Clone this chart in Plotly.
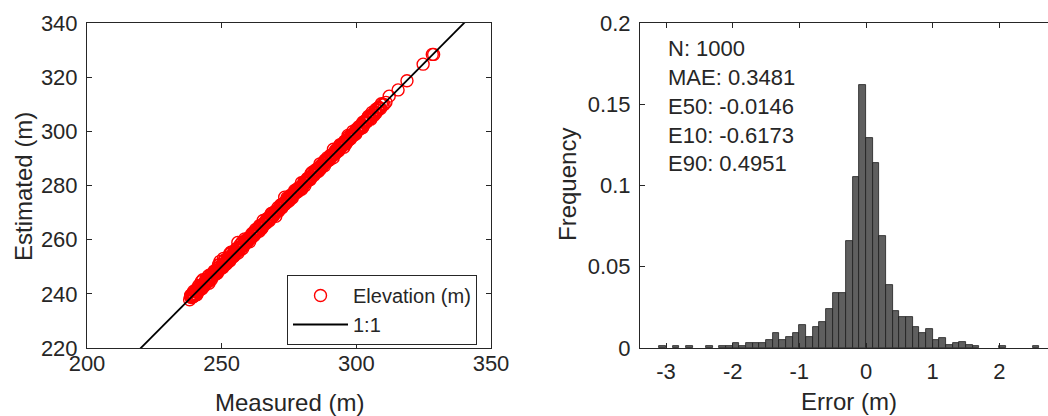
import plotly.graph_objects as go

# ---- scatter: measured vs estimated elevation (m) ----
MEASURED = [
    238.1, 238.4, 238.7, 238.9, 239.2, 239.5, 239.6, 239.9, 240.2, 240.4,
    240.7, 240.9, 241.1, 241.4, 241.6, 241.9, 242.1, 242.4, 242.6, 242.8,
    243.1, 243.3, 243.6, 243.8, 244.1, 244.3, 244.6, 244.9, 245.1, 245.4,
    245.6, 245.9, 246.2, 246.4, 246.7, 247.0, 247.2, 247.5, 247.8, 248.1,
    248.3, 248.6, 248.9, 249.1, 249.4, 249.7, 249.9, 250.2, 250.5, 250.8,
    251.0, 251.3, 251.6, 251.8, 252.1, 252.4, 252.7, 252.9, 253.2, 253.5,
    253.8, 254.0, 254.3, 254.6, 254.9, 255.1, 255.4, 255.7, 256.0, 256.2,
    256.5, 256.8, 257.1, 257.3, 257.6, 257.9, 258.2, 258.4, 258.7, 259.0,
    259.3, 259.6, 259.8, 260.1, 260.4, 260.7, 260.9, 261.2, 261.5, 261.8,
    262.1, 262.3, 262.6, 262.9, 263.2, 263.4, 263.7, 264.0, 264.3, 264.6,
    264.8, 265.1, 265.4, 265.7, 265.9, 266.2, 266.5, 266.8, 267.1, 267.3,
    267.6, 267.9, 268.2, 268.4, 268.7, 269.0, 269.3, 269.6, 269.8, 270.1,
    270.4, 270.7, 270.9, 271.2, 271.5, 271.8, 272.1, 272.3, 272.6, 272.9,
    273.2, 273.4, 273.7, 274.0, 274.3, 274.6, 274.8, 275.1, 275.4, 275.7,
    275.9, 276.2, 276.5, 276.8, 277.1, 277.3, 277.6, 277.9, 278.2, 278.4,
    278.7, 279.0, 279.3, 279.6, 279.8, 280.1, 280.4, 280.7, 280.9, 281.2,
    281.5, 281.8, 282.1, 282.3, 282.6, 282.9, 283.2, 283.4, 283.7, 284.0,
    284.3, 284.6, 284.8, 285.1, 285.4, 285.7, 285.9, 286.2, 286.5, 286.8,
    287.1, 287.3, 287.6, 287.9, 288.2, 288.4, 288.7, 289.0, 289.3, 289.6,
    289.8, 290.1, 290.4, 290.7, 290.9, 291.2, 291.5, 291.8, 292.1, 292.3,
    292.6, 292.9, 293.2, 293.4, 293.7, 294.0, 294.3, 294.6, 294.8, 295.1,
    295.4, 295.7, 295.9, 296.2, 296.5, 296.8, 297.1, 297.3, 297.6, 297.9,
    298.2, 298.4, 298.7, 299.0, 299.3, 299.6, 299.8, 300.1, 300.4, 300.7,
    300.9, 301.2, 301.5, 301.8, 302.1, 302.4, 302.7, 303.0, 303.3, 303.6,
    303.9, 304.3, 304.6, 305.0, 305.4, 305.8, 306.3, 306.8, 307.4, 308.0,
    308.6, 309.3, 311.0, 312.2, 315.5, 318.8, 324.8, 328.2, 328.7,
    239.0, 239.8, 240.5, 241.3, 242.0, 242.7, 243.4, 244.2, 245.0, 245.7,
    246.5, 247.3, 248.0, 248.8, 249.5, 250.3, 251.1, 251.9, 252.6, 253.4,
    254.2, 254.8, 255.6, 256.4, 257.2, 257.8, 258.6, 259.4, 260.2, 261.0,
    261.7, 262.5, 263.3, 264.1, 264.9, 265.6, 266.4, 267.2, 268.0, 268.8,
    269.5, 270.3, 271.1, 271.9, 272.7, 273.5, 274.2, 275.0, 275.8, 276.6,
    277.4, 278.1, 278.9, 279.7, 280.5, 281.3, 282.0, 282.8, 283.6, 284.4,
    285.2, 286.0, 286.7, 287.5, 288.3, 289.1, 289.9, 290.6, 291.4, 292.2,
    293.0, 293.8, 294.5, 295.3, 296.1, 296.9, 297.7, 298.5, 299.2, 300.0,
    300.8, 301.6, 302.3, 303.1, 303.8, 304.5, 305.2, 305.9, 306.6, 307.2,
    307.9, 308.4, 309.0, 309.7, 310.3, 238.5, 239.4, 240.1, 240.8, 241.5,
    242.3, 243.0, 243.7, 244.5, 245.3, 246.0, 246.8, 247.6, 248.4, 249.2,
    250.0, 250.7, 251.5, 252.2, 253.0, 253.7, 254.5, 255.3, 256.1, 256.9,
]

# error = measured - estimated (m)
ERROR = [
    0.3, -0.5, 0.1, -0.9, 0.4, -0.2, -1.4, 0.2, -0.6, 0.5,
    -0.1, -1.1, 0.6, -0.3, 0.0, -0.8, 0.4, -2.1, 0.2, -0.4,
    0.7, -0.2, -0.6, 0.3, -1.0, 0.1, -0.3, 0.5, -1.6, -0.1,
    0.2, -0.7, 0.9, -0.4, -0.1, 0.3, -1.2, 0.0, -0.5, 0.6,
    -0.3, 0.1, -0.9, 0.4, -2.6, -0.2, 0.2, -0.6, 0.8, -0.1,
    -1.3, 0.3, -0.4, 0.1, -0.7, 0.5, -0.2, -1.8, 0.2, -0.5,
    0.4, -0.1, -0.8, 0.6, -0.3, 0.0, -1.1, 0.3, -3.0, -0.4,
    0.2, -0.6, 0.7, -0.2, -1.5, 0.1, -0.4, 0.5, -0.9, 0.3,
    -0.1, -0.7, 0.4, -0.3, 1.2, -0.5, 0.0, -1.0, 0.2, -0.2,
    0.6, -0.4, -1.2, 0.1, -0.6, 0.3, -0.2, 0.9, -0.8, 0.0,
    -0.3, 0.5, -1.7, -0.1, 0.2, -0.5, 0.4, -0.9, 0.1, -0.3,
    0.7, -0.6, 0.0, -1.3, 0.3, -0.2, 0.5, -0.7, -0.1, 1.5,
    -0.4, 0.2, -1.0, 0.4, -0.3, 0.1, -0.8, 0.6, -0.2, -0.5,
    0.3, -2.3, 0.0, -0.4, 0.5, -0.6, 0.2, -0.1, -0.9, 0.4,
    -0.2, 0.8, -0.5, 0.1, -1.1, 0.3, -0.3, 0.0, -0.7, 0.5,
    -0.1, -0.4, 0.6, -1.4, 0.2, -0.2, 0.4, -0.6, 1.0, -0.3,
    0.1, -0.8, 0.3, -0.5, -0.1, 0.7, -1.2, 0.2, -0.4, 0.0,
    0.5, -0.3, -0.9, 0.1, 0.4, -0.6, 0.2, -0.2, -1.5, 0.6,
    -0.4, 0.3, -0.1, -0.7, 0.9, 0.0, -0.5, 0.2, -1.0, 0.4,
    -0.2, 0.6, -0.8, 0.1, -0.3, 0.3, -1.9, -0.1, 0.5, -0.4,
    0.2, -0.6, 0.0, 0.7, -0.2, -1.1, 0.4, -0.5, 0.1, -0.3,
    1.3, -0.7, 0.3, -0.1, -0.4, 0.5, -0.9, 0.2, -0.2, 0.6,
    -0.5, 0.1, -1.3, 0.4, -0.3, 0.0, 0.8, -0.6, 0.2, -0.1,
    -0.8, 0.3, 0.5, -0.4, 0.1, -1.0, 0.6, -0.2, -0.5, 0.2,
    0.4, -0.7, 0.0, -0.3, 0.9, -1.2, 0.2, -0.4, 0.5, -0.6,
    0.1, -0.9, 0.3, -0.8, 0.2, 0.1, 0.0, -0.2, 0.3,
    -0.4, 0.6, -1.0, 0.2, -0.6, 0.8, -0.2, -1.3, 0.4, -0.7,
    0.1, -0.9, 0.5, -1.9, 0.3, -0.5, -1.4, 0.7, -0.1, -2.0,
    0.6, -0.8, -1.2, 0.2, -0.4, 1.1, -1.7, 0.0, -0.6, 0.4,
    -0.9, 0.3, -0.2, -1.1, 0.8, -0.5, 0.1, -0.7, 0.5, -1.0,
    0.2, -0.3, 0.6, -0.9, -0.1, 0.4, -1.2, 0.7, -0.4, 0.0,
    -0.7, 0.5, -0.3, 1.1, -0.8, 0.2, -0.5, 0.6, -1.3, 0.1,
    -0.2, 0.7, -0.6, 0.3, -1.0, 0.0, 0.5, -0.4, 1.2, -0.7,
    0.3, -0.9, 0.1, -0.5, 0.8, -1.6, 0.4, -0.2, 0.6, -0.8,
    0.2, -0.4, 1.0, -0.6, 0.3, -1.1, 0.5, -0.3, 0.7, -0.9,
    0.1, -0.5, 0.6, -0.2, 0.4, -1.0, 0.5, -0.8, 1.1, -1.6,
    0.3, -2.2, 0.6, -0.6, 1.4, -1.2, 0.2, -0.9, 0.8, -1.5,
    0.4, -2.4, 0.7, -1.0, 0.9, -1.7, 0.3, -0.5, 1.0, -1.3,
]

ESTIMATED = [m - e for m, e in zip(MEASURED, ERROR)]

ONE_TO_ONE = [200, 350]

# ---- histogram of errors: bin left edges (m), counts out of N ----
N_POINTS = 1000
BIN_WIDTH = 0.1
BIN_LEFT = [
    -3.1, -2.9, -2.7, -2.4, -2.2, -2.1, -2.0, -1.9, -1.8, -1.7,
    -1.6, -1.5, -1.4, -1.3, -1.2, -1.1, -1.0, -0.9, -0.8, -0.7,
    -0.6, -0.5, -0.4, -0.3, -0.2, -0.1, 0.0, 0.1, 0.2, 0.3,
    0.4, 0.5, 0.6, 0.7, 0.8, 0.9, 1.0, 1.1, 1.2, 1.3,
    1.4, 1.5, 1.6, 2.0, 2.5,
]
COUNTS = [
    1, 1, 1, 1, 1, 1, 3, 1, 3, 3,
    3, 5, 9, 5, 7, 9, 14, 7, 13, 16,
    24, 34, 34, 66, 105, 162, 129, 114, 69, 39,
    23, 19, 19, 13, 9, 12, 5, 6, 2, 3,
    4, 2, 1, 1, 1,
]
BIN_CENTER = [b + BIN_WIDTH / 2 for b in BIN_LEFT]
FREQ = [c / N_POINTS for c in COUNTS]

STAT_NAMES = ["N", "MAE", "E50", "E10", "E90"]
STAT_VALUES = ["1000", "0.3481", "-0.0146", "-0.6173", "0.4951"]

# tick labels
X1_TICKS = [200, 250, 300, 350]
Y1_TICKS = [220, 240, 260, 280, 300, 320, 340]
X2_TICKS = [-3, -2, -1, 0, 1, 2]
X2_LABELS = ["-3", "-2", "-1", "0", "1", "2"]
Y2_TICKS = [0, 0.05, 0.1, 0.15, 0.2]
Y2_LABELS = ["0", "0.05", "0.1", "0.15", "0.2"]

W, H = 1048, 416
FONT = "Liberation Sans, Arial, sans-serif"
INK = "#262626"
TICK_SIZE = 22
LABEL_SIZE = 24


def px(x):
    return x / W


def py(y):
    return 1 - y / H


fig = go.Figure()

fig.add_trace(go.Scatter(
    x=MEASURED, y=ESTIMATED, mode="markers", name="Elevation (m)",
    marker=dict(symbol="circle-open", size=12, color="#ff0000",
                line=dict(width=1.4, color="#ff0000")),
    xaxis="x", yaxis="y",
))
fig.add_trace(go.Scatter(
    x=ONE_TO_ONE, y=ONE_TO_ONE, mode="lines", name="1:1",
    line=dict(color="black", width=1.8),
    xaxis="x", yaxis="y",
))
fig.add_trace(go.Bar(
    x=BIN_CENTER, y=FREQ, width=BIN_WIDTH, showlegend=False,
    marker=dict(color="#5f5f5f", line=dict(color="#1e1e1e", width=0.8)),
    xaxis="x2", yaxis="y2",
))

axis_common = dict(
    showgrid=False, zeroline=False, showline=True, linecolor=INK,
    linewidth=1, ticks="inside", ticklen=5, tickcolor=INK, tickwidth=1,
    automargin=False,
    tickfont=dict(family=FONT, size=TICK_SIZE, color=INK),
)

y_dom = [py(348), py(23)]

fig.update_layout(
    template="none",
    width=W, height=H, margin=dict(l=0, r=0, t=0, b=0, pad=0),
    paper_bgcolor="white", plot_bgcolor="white",
    bargap=0,
    xaxis=dict(domain=[px(87), px(491)], range=[200, 350],
               tickvals=X1_TICKS, mirror="ticks", anchor="y",
               ticklabelstandoff=-4, **axis_common),
    yaxis=dict(domain=y_dom, range=[220, 340], tickvals=Y1_TICKS,
               mirror="ticks", anchor="x", ticklabelstandoff=4,
               **axis_common),
    xaxis2=dict(domain=[px(640), 1.0], range=[-3.39, 2.73],
                tickvals=X2_TICKS, ticktext=X2_LABELS, mirror="ticks",
                anchor="y2", ticklabelstandoff=4, **axis_common),
    yaxis2=dict(domain=y_dom, range=[0, 0.2], tickvals=Y2_TICKS,
                ticktext=Y2_LABELS, mirror=False, anchor="x2",
                ticklabelstandoff=4, **axis_common),
    legend=dict(x=px(287), y=py(275), xanchor="left", yanchor="top",
                bgcolor="white", bordercolor=INK, borderwidth=1,
                font=dict(family=FONT, size=20, color=INK),
                itemwidth=55, tracegroupgap=0),
    showlegend=True,
)

annotations = [
    dict(text="Estimated (m)", x=px(23), y=py(187), textangle=-90),
    dict(text="Measured (m)", x=px(289), y=py(402)),
    dict(text="Frequency", x=px(567), y=py(185), textangle=-90),
    dict(text="Error (m)", x=px(849), y=py(401)),
]
for a in annotations:
    a.update(xref="paper", yref="paper", showarrow=False,
             xanchor="center", yanchor="middle",
             font=dict(family=FONT, size=LABEL_SIZE, color=INK))
    fig.add_annotation(**a)

for i, (name, val) in enumerate(zip(STAT_NAMES, STAT_VALUES)):
    fig.add_annotation(
        text=f"{name}: {val}", xref="paper", yref="paper",
        x=px(666), y=py(48 + 29 * i), xanchor="left", yanchor="middle",
        showarrow=False, font=dict(family=FONT, size=22, color=INK),
    )

fig.write_html("out.html")
